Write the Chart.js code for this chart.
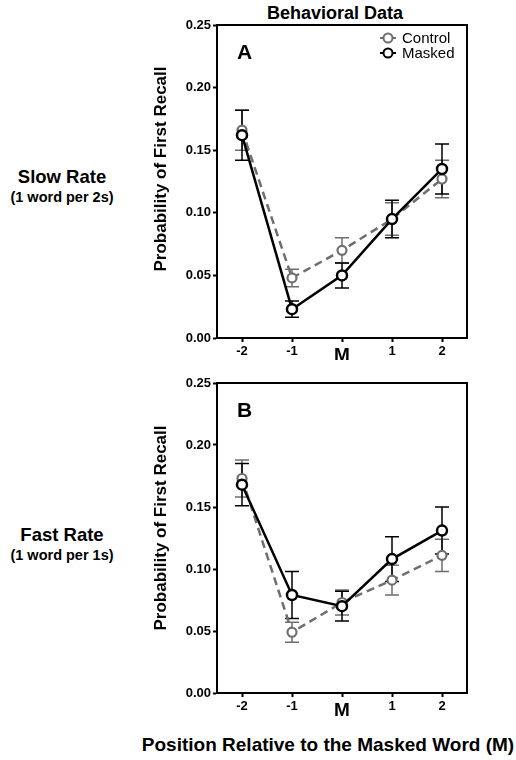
<!DOCTYPE html>
<html>
<head>
<meta charset="utf-8">
<script src="https://cdn.jsdelivr.net/npm/chart.js@4.4.1/dist/chart.umd.min.js"></script>
<style>
    body { margin: 0; width: 516px; height: 760px; background: #fff; position: relative; overflow: hidden;
           font-family: "Liberation Sans", Arial, sans-serif; color: #000; }
    .lbl { position: absolute; font-weight: bold; white-space: nowrap; transform: translate(-50%, -50%); }
    .ytitle { position: absolute; font-weight: bold; white-space: nowrap; font-size: 17px;
              transform: translate(-50%, -50%) rotate(-90deg); }
    .panel { position: absolute; left: 130px; width: 386px; height: 360px; }
</style>
</head>
<body>
<div class="lbl" style="left:335px; top:13px; font-size:18px;">Behavioral Data</div>
<div class="lbl" style="left:62px; top:177px; font-size:18.5px;">Slow Rate</div>
<div class="lbl" style="left:62px; top:197px; font-size:14.5px;">(1 word per 2s)</div>
<div class="lbl" style="left:62px; top:535px; font-size:18.5px;">Fast Rate</div>
<div class="lbl" style="left:62px; top:555px; font-size:14.5px;">(1 word per 1s)</div>
<div class="lbl" style="left:328px; top:745px; font-size:19px;">Position Relative to the Masked Word (M)</div>
<div class="panel" style="top:0;"><canvas id="chartA" width="386" height="360"></canvas></div>
<div class="panel" style="top:360px;"><canvas id="chartB" width="386" height="360"></canvas></div>
<div class="ytitle" style="left:161px; top:169px;">Probability of First Recall</div>
<div class="ytitle" style="left:161px; top:528px;">Probability of First Recall</div>
<script>
const positions = ["-2", "-1", "M", "1", "2"];
const yTicks = [0, 0.05, 0.10, 0.15, 0.20, 0.25];

// slow rate (panel A)
const slowControl = [0.166, 0.048, 0.070, 0.095, 0.127];
const slowControlErr = [0.016, 0.007, 0.010, 0.013, 0.015];
const slowMasked = [0.162, 0.023, 0.050, 0.095, 0.135];
const slowMaskedErr = [0.020, 0.0065, 0.010, 0.015, 0.020];

// fast rate (panel B)
const fastControl = [0.173, 0.049, 0.073, 0.091, 0.111];
const fastControlErr = [0.015, 0.008, 0.010, 0.012, 0.013];
const fastMasked = [0.168, 0.079, 0.070, 0.108, 0.131];
const fastMaskedErr = [0.017, 0.019, 0.012, 0.018, 0.019];

const FONT = "'Liberation Sans', Arial, sans-serif";
const GREY = "#6e6e6e";
Chart.defaults.color = "#000";
Chart.defaults.font.family = FONT;

const errorBars = {
    id: "errorBars",
    beforeDatasetsDraw(chart) {
        const ctx = chart.ctx;
        const xs = chart.scales.x, ys = chart.scales.y;
        chart.data.datasets.forEach(ds => {
            if (!ds.errors) return;
            ctx.save();
            ctx.strokeStyle = ds.borderColor;
            ctx.lineWidth = 1.5;
            ds.data.forEach((v, i) => {
                const x = xs.getPixelForValue(i);
                const yHi = ys.getPixelForValue(v + ds.errors[i]);
                const yLo = ys.getPixelForValue(v - ds.errors[i]);
                ctx.beginPath();
                ctx.moveTo(x, yHi); ctx.lineTo(x, yLo);
                ctx.moveTo(x - 7, yHi); ctx.lineTo(x + 7, yHi);
                ctx.moveTo(x - 7, yLo); ctx.lineTo(x + 7, yLo);
                ctx.stroke();
            });
            ctx.restore();
        });
    }
};

const frame = {
    id: "frame",
    afterDraw(chart, args, opts) {
        const { ctx, chartArea: a } = chart;
        ctx.save();
        ctx.strokeStyle = "#000";
        ctx.lineWidth = 2;
        ctx.beginPath();
        ctx.moveTo(a.left, a.top); ctx.lineTo(a.right, a.top); ctx.lineTo(a.right, a.bottom);
        ctx.stroke();
        // panel letter
        ctx.fillStyle = "#000";
        ctx.font = "bold 21px " + FONT;
        ctx.textBaseline = "middle";
        ctx.fillText(opts.letter, a.left + 20, a.top + 28);
        // legend
        if (opts.legend) {
            ctx.font = "15px " + FONT;
            chart.data.datasets.forEach((ds, i) => {
                const y = a.top + 13 + i * 15;
                const x = a.right - 79;
                ctx.strokeStyle = ds.borderColor;
                ctx.lineWidth = 2;
                ctx.beginPath();
                ctx.moveTo(x - 8, y); ctx.lineTo(x + 8, y);
                ctx.stroke();
                ctx.beginPath();
                ctx.fillStyle = "#fff";
                ctx.arc(x, y, 4.5, 0, Math.PI * 2);
                ctx.fill(); ctx.stroke();
                ctx.fillStyle = "#000";
                ctx.fillText(ds.label, x + 14, y + 1);
            });
        }
        ctx.restore();
    }
};

function makePanel(canvasId, control, controlErr, masked, maskedErr, letter, legend, topPad, xHeight) {
    return new Chart(document.getElementById(canvasId), {
        type: "line",
        data: {
            labels: positions,
            datasets: [
                {
                    label: "Control", data: control, errors: controlErr,
                    borderColor: GREY, borderWidth: 2.5, borderDash: [8, 5],
                    pointRadius: 4.5, pointBorderWidth: 2.2, pointBackgroundColor: "#fff",
                    pointBorderColor: GREY, order: 1
                },
                {
                    label: "Masked", data: masked, errors: maskedErr,
                    borderColor: "#000", borderWidth: 2.5,
                    pointRadius: 5, pointBorderWidth: 2.5, pointBackgroundColor: "#fff",
                    pointBorderColor: "#000", order: 0
                }
            ]
        },
        options: {
            responsive: false,
            animation: false,
            devicePixelRatio: 1,
            layout: { padding: { top: topPad, right: 49, left: 0, bottom: 0 } },
            plugins: {
                legend: { display: false },
                tooltip: { enabled: false },
                frame: { letter, legend }
            },
            scales: {
                x: {
                    type: "category",
                    offset: true,
                    afterFit: s => { s.height = xHeight; },
                    grid: { drawOnChartArea: false, drawTicks: true, tickLength: 4, tickWidth: 2, tickColor: "#000" },
                    border: { color: "#000", width: 2 },
                    ticks: {
                        padding: 2, color: "#000",
                        font: c => ({ family: FONT, weight: "bold", size: positions[c.index] === "M" ? 19 : 13 })
                    }
                },
                y: {
                    min: 0, max: 0.25,
                    afterBuildTicks: s => { s.ticks = yTicks.map(v => ({ value: v })); },
                    afterFit: s => { s.width = 87; },
                    grid: { drawOnChartArea: false, drawTicks: true, tickLength: 4, tickWidth: 2, tickColor: "#000" },
                    border: { color: "#000", width: 2 },
                    ticks: {
                        padding: 2, color: "#000",
                        font: { family: FONT, weight: "bold", size: 13 },
                        callback: v => Number(v).toFixed(2)
                    }
                }
            }
        },
        plugins: [errorBars, frame]
    });
}

makePanel("chartA", slowControl, slowControlErr, slowMasked, slowMaskedErr, "A", true, 25, 22);
makePanel("chartB", fastControl, fastControlErr, fastMasked, fastMaskedErr, "B", false, 23, 27);
</script>
</body>
</html>
